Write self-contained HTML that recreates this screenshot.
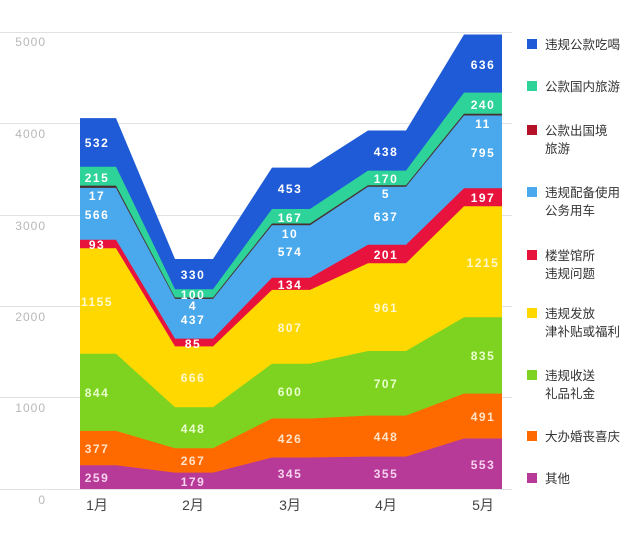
<!DOCTYPE html>
<html><head><meta charset="utf-8"><style>
body{margin:0;background:#fff;width:640px;height:549px;overflow:hidden}
svg{display:block}
.v{font-family:"Liberation Sans","Noto Sans CJK SC",sans-serif;font-size:12px;font-weight:bold;fill:#fff;text-anchor:middle;letter-spacing:1.5px}
.y{font-family:"Liberation Sans",sans-serif;font-size:12px;fill:#b8b8b8;text-anchor:end;letter-spacing:1px}
.x{font-family:"Liberation Sans","Noto Sans CJK SC",sans-serif;font-size:14px;fill:#444;text-anchor:middle}
.l{font-family:"Liberation Sans","Noto Sans CJK SC",sans-serif;font-size:12.5px;fill:#333}
</style></head><body>
<svg width="640" height="549" xmlns="http://www.w3.org/2000/svg">
<g stroke="#e2e2e2" stroke-width="1">
<line x1="0" y1="32.5" x2="512" y2="32.5"/><line x1="0" y1="123.5" x2="512" y2="123.5"/>
<line x1="0" y1="215.5" x2="512" y2="215.5"/><line x1="0" y1="306.5" x2="512" y2="306.5"/>
<line x1="0" y1="397.5" x2="512" y2="397.5"/><line x1="0" y1="489.5" x2="512" y2="489.5"/>
</g>
<g>
<polygon fill="#1f5bd6" points="80,118.1 116,118.1 175,259.0 213,259.0 272,167.6 310,167.6 368,130.5 406,130.5 464,34.5 502,34.5 502,489 80,489"/>
<polygon fill="#2ed39a" points="80,166.7 116,166.7 175,289.2 213,289.2 272,209.0 310,209.0 368,170.6 406,170.6 464,92.6 502,92.6 502,489 80,489"/>
<polygon fill="#4a2e2e" points="80,185.6 116,185.6 175,297.5 213,297.5 272,223.5 310,223.5 368,185.3 406,185.3 464,113.7 502,113.7 502,489 80,489"/>
<polygon fill="#4aa9ec" points="80,187.9 116,187.9 175,298.9 213,298.9 272,225.2 310,225.2 368,186.8 406,186.8 464,115.5 502,115.5 502,489 80,489"/>
<polygon fill="#e8133d" points="80,239.7 116,239.7 175,338.6 213,338.6 272,277.7 310,277.7 368,244.8 406,244.8 464,188.2 502,188.2 502,489 80,489"/>
<polygon fill="#ffd800" points="80,248.2 116,248.2 175,346.4 213,346.4 272,289.9 310,289.9 368,263.2 406,263.2 464,206.2 502,206.2 502,489 80,489"/>
<polygon fill="#7ed321" points="80,353.7 116,353.7 175,407.3 213,407.3 272,363.7 310,363.7 368,351.0 406,351.0 464,317.3 502,317.3 502,489 80,489"/>
<polygon fill="#ff6a00" points="80,430.9 116,430.9 175,448.2 213,448.2 272,418.5 310,418.5 368,415.6 406,415.6 464,393.6 502,393.6 502,489 80,489"/>
<polygon fill="#b83a98" points="80,465.3 116,465.3 175,472.6 213,472.6 272,457.5 310,457.5 368,456.6 406,456.6 464,438.5 502,438.5 502,489 80,489"/>
</g>
<text class="y" x="46" y="46">5000</text><text class="y" x="46" y="138">4000</text>
<text class="y" x="46" y="230">3000</text><text class="y" x="46" y="321">2000</text>
<text class="y" x="46" y="412">1000</text><text class="y" x="46" y="504">0</text>
<text class="x" x="97" y="510">1月</text><text class="x" x="193" y="510">2月</text>
<text class="x" x="290" y="510">3月</text><text class="x" x="386" y="510">4月</text>
<text class="x" x="483" y="510">5月</text>
<g class="v">
<text x="97" y="482" fill="#f6d3ef">259</text><text x="97" y="453" fill="#ffe3c8">377</text><text x="97" y="397" fill="#eaffd0">844</text><text x="97" y="306" fill="#fff8d0">1155</text><text x="97" y="249">93</text><text x="97" y="219">566</text><text x="97" y="200">17</text><text x="97" y="182">215</text><text x="97" y="147">532</text>
<text x="193" y="486" fill="#f6d3ef">179</text><text x="193" y="465" fill="#ffe3c8">267</text><text x="193" y="433" fill="#eaffd0">448</text><text x="193" y="382" fill="#fff8d0">666</text><text x="193" y="348">85</text><text x="193" y="324">437</text><text x="193" y="310">4</text><text x="193" y="299">100</text><text x="193" y="279">330</text>
<text x="290" y="478" fill="#f6d3ef">345</text><text x="290" y="443" fill="#ffe3c8">426</text><text x="290" y="396" fill="#eaffd0">600</text><text x="290" y="332" fill="#fff8d0">807</text><text x="290" y="289">134</text><text x="290" y="256">574</text><text x="290" y="238">10</text><text x="290" y="222">167</text><text x="290" y="193">453</text>
<text x="386" y="478" fill="#f6d3ef">355</text><text x="386" y="441" fill="#ffe3c8">448</text><text x="386" y="388" fill="#eaffd0">707</text><text x="386" y="312" fill="#fff8d0">961</text><text x="386" y="259">201</text><text x="386" y="221">637</text><text x="386" y="198">5</text><text x="386" y="183">170</text><text x="386" y="156">438</text>
<text x="483" y="469" fill="#f6d3ef">553</text><text x="483" y="421" fill="#ffe3c8">491</text><text x="483" y="360" fill="#eaffd0">835</text><text x="483" y="267" fill="#fff8d0">1215</text><text x="483" y="202">197</text><text x="483" y="157">795</text><text x="483" y="128">11</text><text x="483" y="109">240</text><text x="483" y="69">636</text>
</g>
<g>
<rect x="527" y="39" width="10" height="10" fill="#1f5bd6"/><text class="l" x="545" y="49">违规公款吃喝</text>
<rect x="527" y="81" width="10" height="10" fill="#2ed39a"/><text class="l" x="545" y="91">公款国内旅游</text>
<rect x="527" y="125" width="10" height="10" fill="#b5122a"/><text class="l" x="545" y="135">公款出国境</text><text class="l" x="545" y="153">旅游</text>
<rect x="527" y="187" width="10" height="10" fill="#4aa9ec"/><text class="l" x="545" y="197">违规配备使用</text><text class="l" x="545" y="215">公务用车</text>
<rect x="527" y="250" width="10" height="10" fill="#e8133d"/><text class="l" x="545" y="260">楼堂馆所</text><text class="l" x="545" y="278">违规问题</text>
<rect x="527" y="308" width="10" height="10" fill="#ffd800"/><text class="l" x="545" y="318">违规发放</text><text class="l" x="545" y="336">津补贴或福利</text>
<rect x="527" y="370" width="10" height="10" fill="#7ed321"/><text class="l" x="545" y="380">违规收送</text><text class="l" x="545" y="398">礼品礼金</text>
<rect x="527" y="431" width="10" height="10" fill="#ff6a00"/><text class="l" x="545" y="441">大办婚丧喜庆</text>
<rect x="527" y="473" width="10" height="10" fill="#b83a98"/><text class="l" x="545" y="483">其他</text>
</g>
</svg>
</body></html>
